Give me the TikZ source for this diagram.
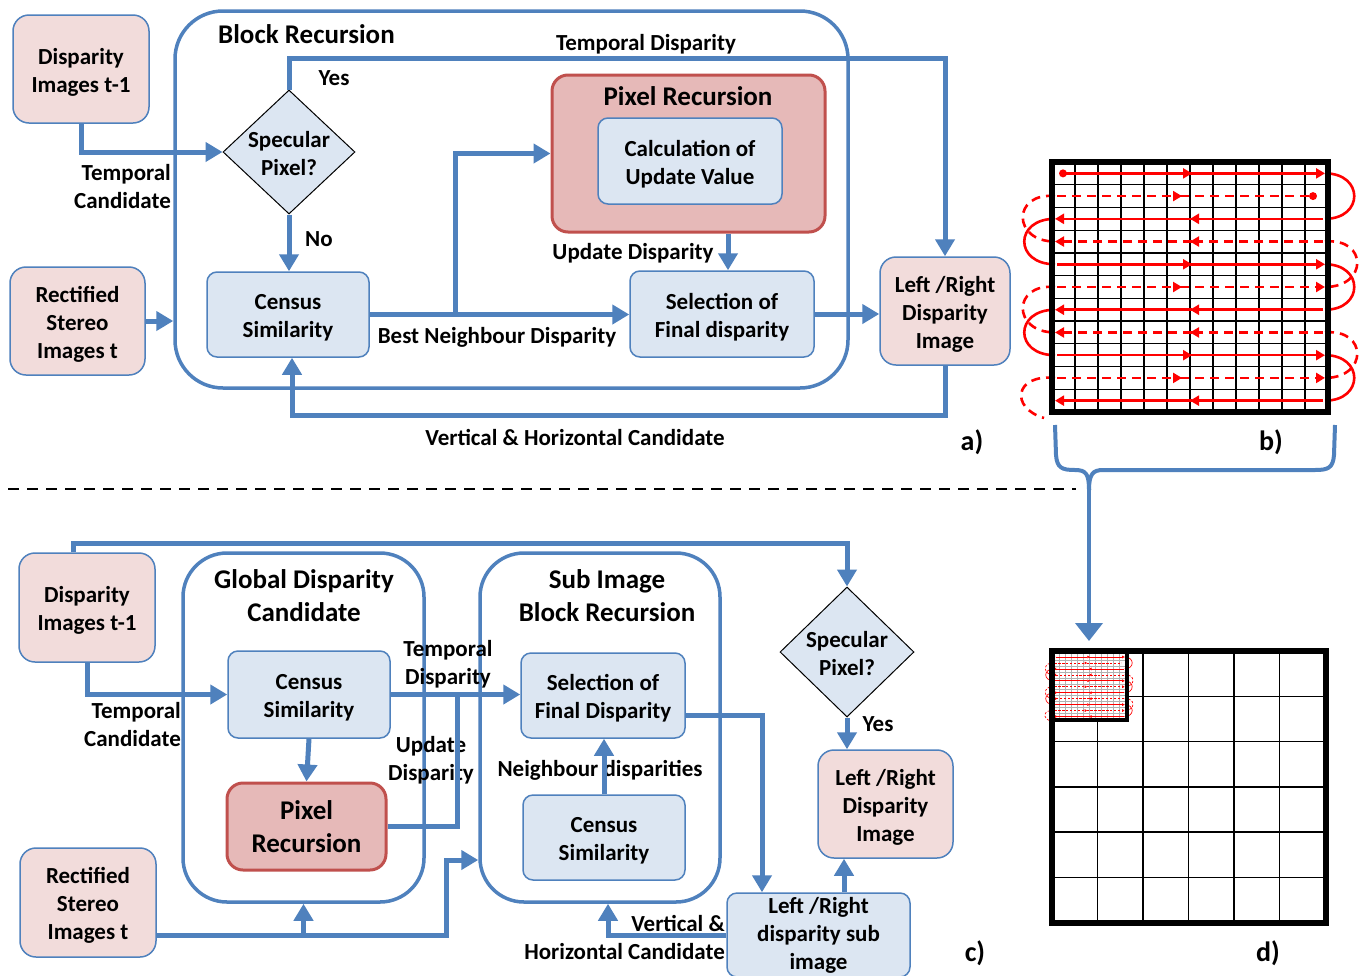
\documentclass[tikz,border=0pt]{standalone}
\usepackage{fontspec}
\setmainfont{Carlito}
\usetikzlibrary{arrows.meta,shapes.geometric}
\definecolor{bl}{HTML}{4F81BD}
\definecolor{ltb}{HTML}{DCE6F2}
\definecolor{pk}{HTML}{F2DCDB}
\definecolor{prf}{HTML}{E6B9B8}
\definecolor{prd}{HTML}{C0504D}
\newcommand\nf{\fontsize{23}{28}\selectfont\bfseries}
\newcommand\tf{\fontsize{27}{33}\selectfont\bfseries}
\newcommand\lf{\fontsize{28}{32}\selectfont\bfseries}
\newcommand\bx[1]{\raisebox{-3.5pt}[\height][\depth]{\begin{tabular}{@{}c@{}}#1\end{tabular}}}
\newcommand\redpattern[4]{%
\begin{scope}[shift={(#1,#2)},scale=#3]
\pgfmathsetmacro\rlw{2.6*#3}
\pgfmathsetmacro\tl{9*#3}
\pgfmathsetmacro\tw{10*#3}
\pgfmathsetmacro\don{9*#3}
\pgfmathsetmacro\doff{6*#3}
\pgfmathsetmacro\dr{4*#3}
\tikzset{rs/.style={draw=red, line width=\rlw pt},
 rd/.style={rs, dash pattern=on \don pt off \doff pt},
 rt/.style={-{Triangle[length=\tl pt,width=\tw pt]}}}
\foreach \c in {1,...,11} \draw[#4] (\c*23,0) -- (\c*23,250);
\foreach \r in {1,...,10} \draw[#4] (0,\r*22.727) -- (276,\r*22.727);
% right-going solid rows
\pgfmathsetmacro\yy{0.5*22.727}
\fill[red] (11,\yy) circle[radius=\dr];
\draw[rs,rt] (11,\yy) -- (140,\yy); \draw[rs,rt] (138,\yy) -- (273,\yy);
\foreach \r in {5,9} {\pgfmathsetmacro\yy{(\r-0.5)*22.727}
 \draw[rs,rt] (5,\yy) -- (140,\yy); \draw[rs,rt] (138,\yy) -- (273,\yy);}
% right-going dashed rows
\pgfmathsetmacro\yy{1.5*22.727}
\draw[rd,rt] (5,\yy) -- (130,\yy); \draw[rd] (128,\yy) -- (261,\yy);
\fill[red] (261,\yy) circle[radius=\dr];
\foreach \r in {6,10} {\pgfmathsetmacro\yy{(\r-0.5)*22.727}
 \draw[rd,rt] (5,\yy) -- (130,\yy); \draw[rd,rt] (128,\yy) -- (273,\yy);}
% left-going rows
\foreach \r in {3,7,11} {\pgfmathsetmacro\yy{(\r-0.5)*22.727}
 \draw[rs,rt] (271,\yy) -- (138,\yy); \draw[rs,rt] (140,\yy) -- (3,\yy);}
\foreach \r in {4,8} {\pgfmathsetmacro\yy{(\r-0.5)*22.727}
 \draw[rd,rt] (271,\yy) -- (138,\yy); \draw[rd,rt] (140,\yy) -- (3,\yy);}
% loops
\foreach \a/\b in {1/3,5/7,9/11} {\pgfmathsetmacro\ya{(\a-0.5)*22.727}\pgfmathsetmacro\yb{(\b-0.5)*22.727}
 \draw[rs] (273,\ya) .. controls (312,\ya) and (312,\yb) .. (273,\yb);}
\foreach \a/\b in {3/5,7/9} {\pgfmathsetmacro\ya{(\a-0.5)*22.727}\pgfmathsetmacro\yb{(\b-0.5)*22.727}
 \draw[rs] (3,\ya) .. controls (-38,\ya) and (-38,\yb) .. (3,\yb);}
\foreach \a/\b in {4/6,8/10} {\pgfmathsetmacro\ya{(\a-0.5)*22.727}\pgfmathsetmacro\yb{(\b-0.5)*22.727}
 \draw[rd] (273,\ya) .. controls (316,\ya-4) and (316,\yb) .. (273,\yb);}
\foreach \a/\b in {2/4,6/8} {\pgfmathsetmacro\ya{(\a-0.5)*22.727}\pgfmathsetmacro\yb{(\b-0.5)*22.727}
 \draw[rd] (3,\ya) .. controls (-40,\ya-4) and (-40,\yb) .. (3,\yb);}
\pgfmathsetmacro\ya{9.5*22.727}
\draw[rd] (3,\ya) .. controls (-38,\ya-4) and (-42,246) .. (-8,256);
\end{scope}}
\begin{document}
\begin{tikzpicture}[x=1pt,y=-1pt,
 lbl/.style={font=\nf, inner sep=0pt, align=center},
 pinkbox/.style={draw=bl, line width=1.5pt, fill=pk, rounded corners=16pt, align=center, font=\nf, inner sep=0pt},
 bluebox/.style={draw=bl, line width=1.5pt, fill=ltb, rounded corners=10pt, align=center, font=\nf, inner sep=0pt},
 redbox/.style={draw=prd, line width=3pt, fill=prf, rounded corners=16pt, align=center, inner sep=0pt},
 container/.style={draw=bl, line width=3.5pt, rounded corners=48pt, inner sep=0pt},
 diam/.style={diamond, draw=black, line width=1pt, fill=ltb, inner sep=0pt},
 conn/.style={draw=bl, line width=5pt, -{Triangle[length=17pt,width=19pt]}},
 plain/.style={draw=bl, line width=5pt}]
\fill[white] (0,0) rectangle (1363,975);
\useasboundingbox (0,0) rectangle (1363,975);

% ================= a) =================
\node[container, minimum width=673, minimum height=377] (blockrec) at (511.5,199.5) {};
\node[lbl, font=\tf, anchor=west] (tblock) at (218,34) {Block Recursion};
\node[pinkbox, minimum width=136, minimum height=108] (dimg) at (81,69) {\bx{Disparity\\Images t-1}};
\node[pinkbox, minimum width=135, minimum height=108] (rect) at (77.5,321) {\bx{Rectified\\Stereo\\Images t}};
\node[diam, minimum width=132, minimum height=124, label={[lbl]center:\bx{Specular\\Pixel?}}] (spec) at (289,152) {};
\node[bluebox, minimum width=162, minimum height=85] (cs) at (288,314.5) {\bx{Census\\Similarity}};
\node[redbox, minimum width=273, minimum height=157] (pr) at (688.5,153.5) {};
\node[lbl, font=\tf] (tpr) at (688,96) {Pixel Recursion};
\node[bluebox, minimum width=184, minimum height=86] (calc) at (690,161) {\bx{Calculation of\\Update Value}};
\node[bluebox, minimum width=184, minimum height=86] (sel) at (722,314) {\bx{Selection of\\Final disparity}};
\node[pinkbox, minimum width=130, minimum height=108] (lr) at (945,311) {\bx{Left /Right\\Disparity\\Image}};

\coordinate (tdtop) at (945,58);
\coordinate (ud) at (728,0);
\coordinate (bn) at (455,0);
\coordinate (vh) at (0,415);
\draw[conn] (dimg.south) |- (spec.west);
\draw[conn] (rect.east) -- (blockrec.west |- rect.east);
\draw[conn] (spec.north) |- (tdtop) -- (lr.north);
\draw[conn] (spec.south) -- (spec.south |- cs.north);
\draw[conn] (cs.east) -- (sel.west |- cs.east);
\draw[conn] (cs.east -| bn) |- (pr.west);
\draw[conn] (pr.south -| ud) -- (sel.north -| ud);
\draw[conn] (sel.east) -- (lr.west |- sel.east);
\draw[conn] (lr.south) -- (lr.south |- vh) -| ([xshift=4pt]cs.south);

\node[lbl, align=right, anchor=east] (ltc) at (171,187) {Temporal\\Candidate};
\node[lbl] (ltd) at (646,44) {Temporal Disparity};
\node[lbl] (lyes) at (334,78) {Yes};
\node[lbl] (lno) at (319,239) {No};
\node[lbl] (lud) at (633,253) {Update Disparity};
\node[lbl] (lbn) at (497,337) {Best Neighbour Disparity};
\node[lbl] (lvh) at (575,437) {Vertical \& Horizontal Candidate};
\node[lbl, font=\lf] (la) at (972,442) {a)};

% ================= b) =================
\redpattern{1052}{162}{1}{black,line width=1.2pt}
\draw[black, line width=6pt] (1052,162) rectangle (1328,412);
\node[lbl, font=\lf] (lb) at (1271,442) {b)};
% brace
\draw[bl, line width=4pt] (1055,425) -- (1056,455) .. controls (1057,468) and (1062,470) .. (1075,470)
  .. controls (1086,470) and (1089,474) .. (1089,490);
\draw[bl, line width=4pt] (1335,425) -- (1334,455) .. controls (1333,468) and (1328,470) .. (1315,470)
  -- (1103,470) .. controls (1093,470) and (1089,474) .. (1089,490);
\coordinate (bracetip) at (1089,490);
\coordinate (darrow) at (1089,641);
\draw[bl, line width=4pt, -{Triangle[length=18pt,width=27pt]}] (bracetip) -- (darrow);

% separator
\draw[black, line width=2.5pt, dash pattern=on 11pt off 8pt] (8,489) -- (1076,489);

% ================= d) =================
\foreach \k in {1,...,5} {
 \draw[black, line width=1.6pt] (1052+\k*45.5,651) -- (1052+\k*45.5,923);
 \draw[black, line width=1.6pt] (1052,651+\k*45.3) -- (1326,651+\k*45.3);}
\fill[white] (1052,652) rectangle (1127,720);
\redpattern{1053}{654}{0.262}{gray!60,line width=0.5pt}
\draw[black, line width=4pt] (1127,652) -- (1127,720) -- (1052,720);
\draw[black, line width=6pt] (1052,651) rectangle (1326,923);
\node[lbl, font=\lf] (ld) at (1268,953) {d)};

% ================= c) =================
\node[container, rounded corners=44pt, minimum width=241, minimum height=349] (globc) at (303.5,727.5) {};
\node[container, rounded corners=44pt, minimum width=240, minimum height=349] (subc) at (600,727.5) {};
\node[lbl, font=\tf] (tglob) at (304,596) {Global Disparity\\Candidate};
\node[lbl, font=\tf] (tsub) at (607,596) {Sub Image\\Block Recursion};
\node[pinkbox, minimum width=136, minimum height=109] (dimg2) at (87,607.5) {\bx{Disparity\\Images t-1}};
\node[pinkbox, minimum width=136, minimum height=109] (rect2) at (88,902.5) {\bx{Rectified\\Stereo\\Images t}};
\node[bluebox, minimum width=162, minimum height=87] (cs2) at (309,694.5) {\bx{Census\\Similarity}};
\node[redbox, minimum width=159, minimum height=87, font=\tf] (prc) at (306.5,826.5) {\raisebox{-3pt}[\height][\depth]{\begin{tabular}{@{}c@{}}Pixel\\Recursion\end{tabular}}};
\node[bluebox, minimum width=164, minimum height=85] (sel2) at (603,695.5) {\bx{Selection of\\Final Disparity}};
\node[bluebox, minimum width=162, minimum height=85] (cs3) at (604,837.5) {\bx{Census\\Similarity}};
\node[diam, minimum width=134, minimum height=130, label={[lbl]center:\bx{Specular\\Pixel?}}] (spec2) at (847,652) {};
\node[pinkbox, minimum width=135, minimum height=108] (lr2) at (885.5,804) {\bx{Left /Right\\Disparity\\Image}};
\node[bluebox, minimum width=183, minimum height=84] (lrsub) at (818.5,935) {\raisebox{-0.5pt}[\height][\depth]{\begin{tabular}{@{}c@{}}Left /Right\\disparity sub\\image\end{tabular}}};

\node[lbl, align=right, anchor=east] (ltc2) at (181,725) {Temporal\\Candidate};
\node[lbl] (ltd2) at (448,664) {Temporal\\Disparity};
\node[lbl] (lud2) at (431,760) {Update\\Disparity};
\node[lbl] (lnd) at (600,770) {Neighbour disparities};
\node[lbl] (lyes2) at (878,724) {Yes};
\node[lbl, align=right, anchor=east] (lvh2) at (725,937) {Vertical \&\\Horizontal Candidate};
\node[lbl, font=\lf] (lc) at (975,953) {c)};

\coordinate (c73) at (73,543);
\coordinate (upc) at (457,0);
\coordinate (rl) at (0,935);
\coordinate (rj) at (446,860);
\coordinate (sj) at (762,0);
\coordinate (vj) at (608,0);
\draw[conn] (dimg2.north -| c73) -- (c73) -| (spec2.north);
\draw[conn] (dimg2.south) |- (cs2.west);
\draw[conn] (cs2.east) -- (sel2.west |- cs2.east);
\draw[conn] (cs2.south) -- (prc.north);
\draw[plain] (prc.east) -| (cs2.east -| upc);
\draw[conn] (rect2.east |- rl) -| (rj) -- (rj -| subc.west);
\draw[conn] (globc.south |- rl) -- (globc.south);
\draw[conn] ([yshift=-20pt]sel2.east) -| (lrsub.north -| sj);
\draw[conn] (cs3.north) -- (cs3.north |- sel2.south);
\draw[conn] (lrsub.west) -| (subc.south -| vj);
\draw[conn] (spec2.south) -- (spec2.south |- lr2.north);
\draw[conn] ([xshift=-3pt]lrsub.north -| spec2.south) -- ([xshift=-3pt]lr2.south -| spec2.south);
\end{tikzpicture}
\end{document}
